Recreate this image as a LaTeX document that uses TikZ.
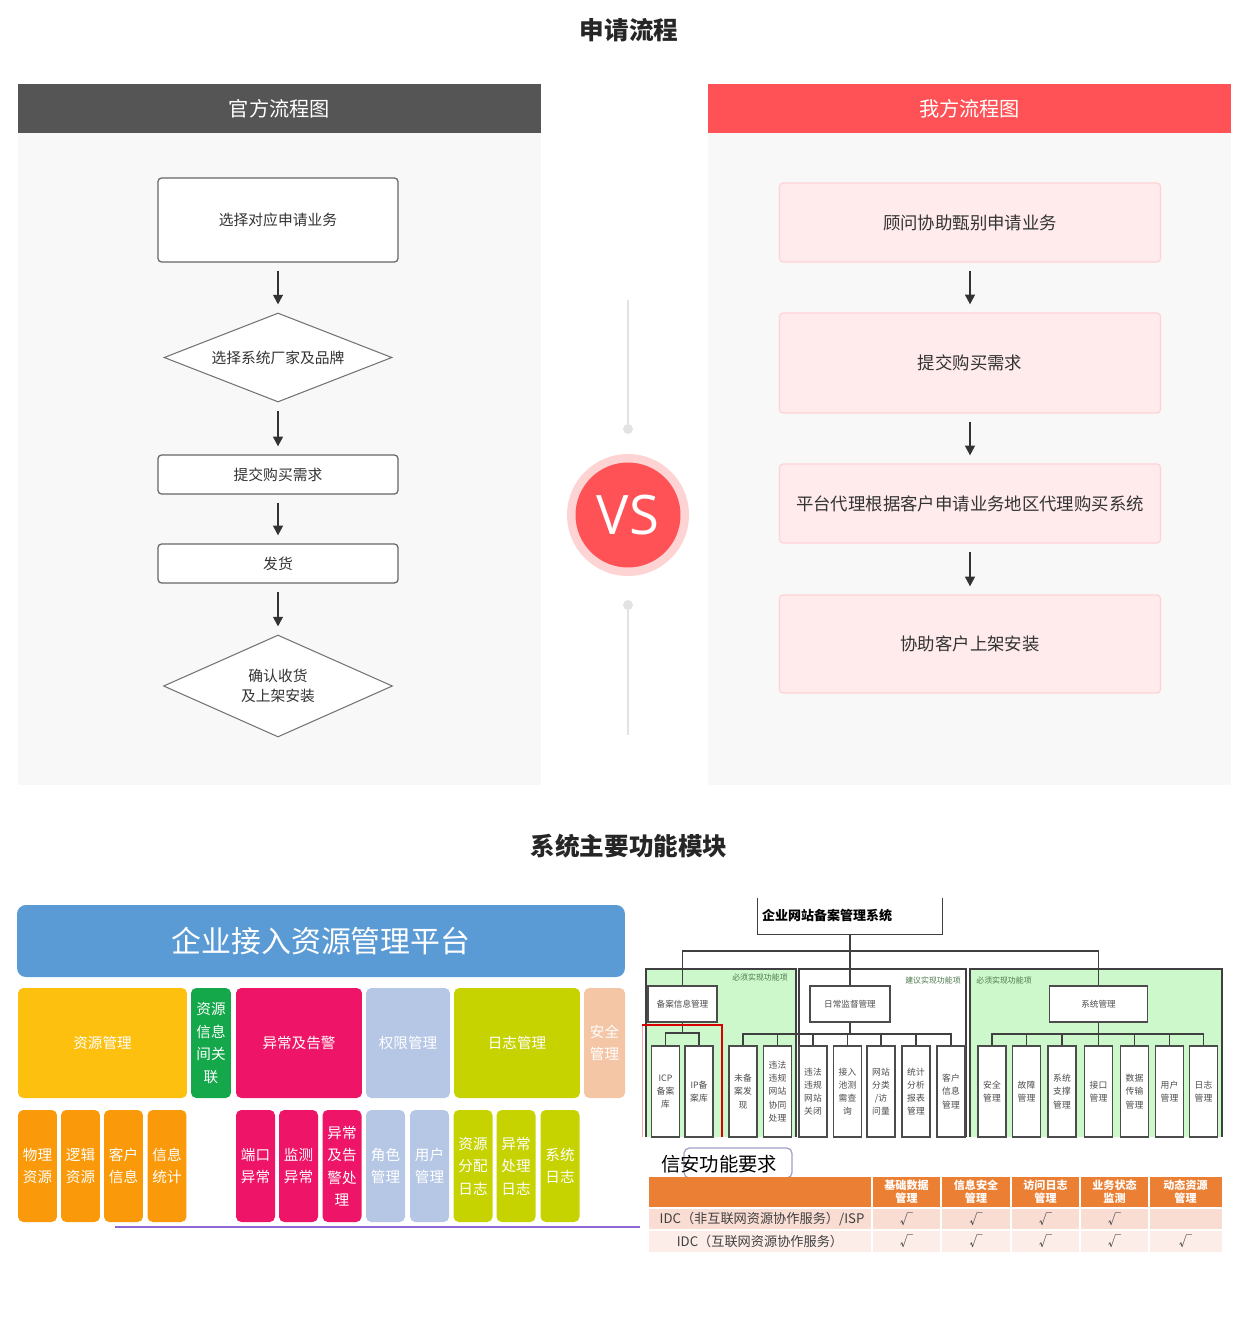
\documentclass[tikz,border=0pt]{standalone}
\usepackage{fontspec}
\setmainfont{Noto Sans CJK SC}
\newfontfamily\vsfont{Open Sans}
\usetikzlibrary{arrows.meta,positioning,shapes.geometric}
\definecolor{hdrgray}{HTML}{555555}
\definecolor{hdrred}{HTML}{FF5257}
\definecolor{panelbg}{HTML}{F8F8F8}
\definecolor{pinkfill}{HTML}{FFEBEC}
\definecolor{pinkline}{HTML}{FFD3D5}
\definecolor{vsring}{HTML}{FDD3D4}
\definecolor{dotgray}{HTML}{E3E3E3}
\definecolor{platblue}{HTML}{5B9BD5}
\definecolor{modyellow}{HTML}{FDC00F}
\definecolor{modgreen}{HTML}{14A84A}
\definecolor{modpink}{HTML}{EE1468}
\definecolor{modgrey}{HTML}{B5C7E5}
\definecolor{modlime}{HTML}{C6D300}
\definecolor{modpeach}{HTML}{F4C6A6}
\definecolor{modorange}{HTML}{FA9A0A}
\definecolor{treegreen}{HTML}{CCF8CC}
\definecolor{tblorange}{HTML}{EB7F34}
\definecolor{tblrowa}{HTML}{F9DCD2}
\definecolor{tblrowb}{HTML}{FCEDE8}

\begin{document}
\begin{tikzpicture}[
  x=0.02cm, y=-0.02cm,
  title/.style={font=\fontsize{14}{16}\selectfont\bfseries,text=black!85},
  header/.style={minimum width=10.46cm,minimum height=0.98cm,inner sep=0pt,
    text=white,font=\fontsize{11.5}{12}\selectfont},
  offbox/.style={draw=black!60,fill=white,rounded corners=2pt,line width=0.7pt,
    minimum width=4.8cm,inner sep=0pt,font=\fontsize{8.4}{11}\selectfont,text=black!80},
  offdia/.style={diamond,draw=black!55,fill=white,line width=0.6pt,inner sep=0pt,
    align=center,font=\fontsize{8.4}{11}\selectfont,text=black!80},
  ourbox/.style={draw=pinkline,fill=pinkfill,rounded corners=2pt,line width=0.7pt,
    minimum width=7.62cm,inner sep=0pt,font=\fontsize{9.9}{12}\selectfont,text=black!80},
  flow/.style={-{Triangle[length=5.5pt,width=5.5pt]},line width=1.1pt,draw=black!80,
    shorten <=0.16cm,shorten >=0.16cm},
  tile/.style={rounded corners=3pt,inner sep=0pt,text=white,align=center,
    font=\fontsize{8.3}{12.8}\selectfont},
  tbox/.style={draw=black!70,fill=white,line width=0.6pt,inner sep=0pt,
    minimum height=0.72cm,font=\fontsize{4.9}{6}\selectfont,text=black!70},
  leaf/.style={draw=black!70,fill=white,line width=0.6pt,inner sep=0pt,
    minimum width=0.56cm,minimum height=1.82cm,align=center,
    font=\fontsize{5}{7.5}\selectfont,text=black!70},
  wire/.style={draw=black!75,line width=0.6pt},
  zone/.style={font=\fontsize{4.5}{5}\selectfont,text=green!25!black!70},
  thead/.style={text=white,align=center,font=\fontsize{6.3}{7.6}\selectfont\bfseries},
  tcell/.style={text=black!75,font=\fontsize{7.5}{9}\selectfont}
]
  \useasboundingbox (0,0) rectangle (1254,1331);

  % --- application flow ---
  \node[title] (flowtitle) at (629,30) {申请流程};
  \fill[panelbg] (18,133) rectangle (541,785);
  \fill[panelbg] (708,133) rectangle (1231,785);
  \node[header,fill=hdrgray] (offhead) at (279.5,108.5) {官方流程图};
  \node[header,fill=hdrred] (ourhead) at (969.5,108.5) {我方流程图};

  \node[offbox,minimum height=1.68cm] (off1) at (278,220) {选择对应申请业务};
  \node[offdia,aspect=2.56,minimum width=4.56cm,minimum height=1.78cm] (off2) at (278,357.5) {选择系统厂家及品牌};
  \node[offbox,minimum height=0.78cm] (off3) at (278,474.5) {提交购买需求};
  \node[offbox,minimum height=0.78cm] (off4) at (278,563.5) {发货};
  \node[offdia,aspect=2.25,minimum width=4.58cm,minimum height=2.04cm] (off5) at (278,686) {确认收货\\及上架安装};

  \node[ourbox,minimum height=1.58cm] (our1) at (970,222.5) {顾问协助甄别申请业务};
  \node[ourbox,minimum height=2cm] (our2) at (970,363) {提交购买需求};
  \node[ourbox,minimum height=1.58cm] (our3) at (970,503.5) {平台代理根据客户申请业务地区代理购买系统};
  \node[ourbox,minimum height=1.96cm] (our4) at (970,644) {协助客户上架安装};

  \foreach \a/\b in {off1/off2,off2/off3,off3/off4,off4/off5,our1/our2,our2/our3,our3/our4} {
    \draw[flow] (\a) -- (\b);
  }

  % VS badge
  \coordinate (railtop) at (628,300);
  \coordinate (railbot) at (628,735);
  \node[circle,fill=dotgray,minimum size=0.2cm,inner sep=0pt] (dotup) at (628,429) {};
  \node[circle,fill=dotgray,minimum size=0.2cm,inner sep=0pt] (dotdown) at (628,605) {};
  \draw[dotgray,line width=1pt] (railtop) -- (dotup);
  \draw[dotgray,line width=1pt] (dotdown) -- (railbot);
  \node[circle,fill=vsring,minimum size=2.44cm,inner sep=0pt] (vsring) at (628,515) {};
  \node[circle,fill=hdrred,minimum size=2.1cm,inner sep=0pt,text=white,
    font=\vsfont\fontsize{31}{31}\selectfont] (vs) at (628,515) {VS};

  % --- function modules ---
  \node[title] (modtitle) at (629,846) {系统主要功能模块};
  \node[tile,fill=platblue,rounded corners=5pt,minimum width=12.16cm,minimum height=1.44cm,
    font=\fontsize{17}{18}\selectfont] (platform) at (321,941) {企业接入资源管理平台};

  \node[tile,fill=modyellow,minimum width=3.38cm,minimum height=2.2cm] (resmgr) at (102.5,1043) {资源管理};
  \node[tile,fill=modgreen,minimum width=0.8cm,minimum height=2.2cm] (resrel) at (211,1043) {资源\\信息\\间关\\联};
  \node[tile,fill=modpink,minimum width=2.52cm,minimum height=2.2cm] (alarm) at (299,1043) {异常及告警};
  \node[tile,fill=modgrey,minimum width=1.68cm,minimum height=2.2cm] (perm) at (408,1043) {权限管理};
  \node[tile,fill=modlime,minimum width=2.52cm,minimum height=2.2cm] (logmgr) at (517,1043) {日志管理};
  \node[tile,fill=modpeach,minimum width=0.82cm,minimum height=2.2cm] (secmgr) at (604.5,1043) {安全\\管理};

  \foreach \n/\x/\c/\t in {phys/37.5/modorange/{物理\\资源},logic/80.5/modorange/{逻辑\\资源},
      cust/123.5/modorange/{客户\\信息},stat/167/modorange/{信息\\统计},
      port/255.5/modpink/{端口\\异常},mon/298.5/modpink/{监测\\异常},
      handle/342/modpink/{异常\\及告\\警处\\理},
      role/385.5/modgrey/{角色\\管理},user/429.5/modgrey/{用户\\管理},
      alloc/473/modlime/{资源\\分配\\日志},errlog/516/modlime/{异常\\处理\\日志},
      syslog/560/modlime/{系统\\日志}} {
    \node[tile,fill=\c,minimum width=0.78cm,minimum height=2.24cm] (\n) at (\x,1166) {\t};
  }
  \draw[blue!45!violet!60,line width=0.9pt] (115,1227) -- (640,1227);

  % --- filing system tree ---
  \fill[treegreen] (646,969) rectangle (796,1137);
  \fill[white] (799,969) rectangle (966,1137);
  \fill[treegreen] (970,969) rectangle (1222,1137);
  \draw[wire] (646,1137) -- (646,969) -- (796,969) -- (796,1137);
  \draw[wire] (799,1137) -- (799,969) -- (966,969) -- (966,1137);
  \draw[wire] (970,1137) -- (970,969) -- (1222,969) -- (1222,1137);
  \node[zone] (zone1) at (760,977) {必须实现功能项};
  \node[zone] (zone2) at (933,980) {建议实现功能项};
  \node[zone] (zone3) at (1004,980) {必须实现功能项};

  \node[minimum width=3.68cm,minimum height=0.72cm,inner xsep=0.08cm,inner ysep=0pt,
    text width=3.52cm,align=left,font=\fontsize{7.4}{8}\selectfont\bfseries] (sys) at (850,916) {企业网站备案管理系统};
  \draw[wire] (sys.north west) -- (sys.south west) -- (sys.south east) -- (sys.north east);

  \node[tbox,minimum width=1.38cm] (filing) at (682.5,1004) {备案信息管理};
  \node[tbox,minimum width=1.6cm] (daily) at (850,1004) {日常监督管理};
  \node[tbox,minimum width=1.96cm] (sysmgr) at (1098.5,1004) {系统管理};

  \coordinate (hub) at (850,951);
  \draw[wire] (sys.south) -- (hub);
  \draw[wire] (filing.north) |- (hub) -| (sysmgr.north);
  \draw[wire] (hub) -- (daily.north);

  \foreach \n/\x/\t in {l1/665.5/{ICP\\备案\\库},l2/699/{IP备\\案库},
      l3/743/{未备\\案发\\现},l4/777.5/{违法\\违规\\网站\\协同\\处理},
      l5/813/{违法\\违规\\网站\\关闭},l6/847.5/{接入\\池测\\需查\\询},
      l7/881/{网站\\分类\\/访\\问量},l8/916/{统计\\分析\\报表\\管理},
      l9/951/{客户\\信息\\管理},
      l10/992/{安全\\管理},l11/1026.5/{故障\\管理},l12/1062/{系统\\支撑\\管理},
      l13/1098.5/{接口\\管理},l14/1134.5/{数据\\传输\\管理},l15/1169.5/{用户\\管理},
      l16/1203.5/{日志\\管理}} {
    \node[leaf] (\n) at (\x,1091.5) {\t};
  }

  \coordinate (filinghub) at (682.5,1033);
  \coordinate (dailyhub) at (850,1034);
  \coordinate (syshub) at (1098.5,1034);
  \draw[wire] (filing.south) -- (filinghub);
  \draw[wire] (l1.north) |- (filinghub) -| (l2.north);
  \draw[wire] (daily.south) -- (dailyhub);
  \draw[wire] (l3.north) |- (dailyhub) -| (l9.north);
  \foreach \n in {l4,l5,l6,l7,l8} {
    \draw[wire] (\n.north) -- (\n.north |- dailyhub);
  }
  \draw[wire] (sysmgr.south) -- (syshub);
  \draw[wire] (l10.north) |- (syshub) -| (l16.north);
  \foreach \n in {l11,l12,l13,l14,l15} {
    \draw[wire] (\n.north) -- (\n.north |- syshub);
  }
  \draw[red!35,line width=0.5pt] (642,1025) -- (642,1137);
  \draw[red!85!black,line width=1.3pt] (642,1025) -- (722,1025) -- (722,1137);

  % --- security requirement table ---
  \draw[draw=blue!25!gray!60,fill=white,rounded corners=3pt,line width=0.7pt] (684,1148) rectangle (792,1178);
  \node[font=\fontsize{11}{12}\selectfont,text=black] (sectitle) at (719,1164) {信安功能要求};
  \fill[tblorange] (649,1177) rectangle (1222,1207);
  \fill[tblrowa] (649,1209) rectangle (1222,1229);
  \fill[tblrowb] (649,1231) rectangle (1222,1252);
  \foreach \x in {872,941,1011,1080,1149} {
    \draw[white,line width=0.9pt] (\x,1177) -- (\x,1252);
  }
  \foreach \n/\x/\t in {h1/906.5/{基础数据\\管理},h2/976/{信息安全\\管理},h3/1045.5/{访问日志\\管理},
      h4/1114.5/{业务状态\\监测},h5/1185.5/{动态资源\\管理}} {
    \node[thead] (\n) at (\x,1192) {\t};
  }
  \node[tcell] (rowisp) at (762,1219.5) {IDC（非互联网资源协作服务）/ISP};
  \node[tcell] (rowidc) at (760,1241.5) {IDC（互联网资源协作服务）};
  \foreach \x in {906.5,976,1045.5,1114.5} {
    \node[tcell] at (\x,1219.5) {√};
  }
  \foreach \x in {906.5,976,1045.5,1114.5,1185.5} {
    \node[tcell] at (\x,1241.5) {√};
  }
\end{tikzpicture}
\end{document}
